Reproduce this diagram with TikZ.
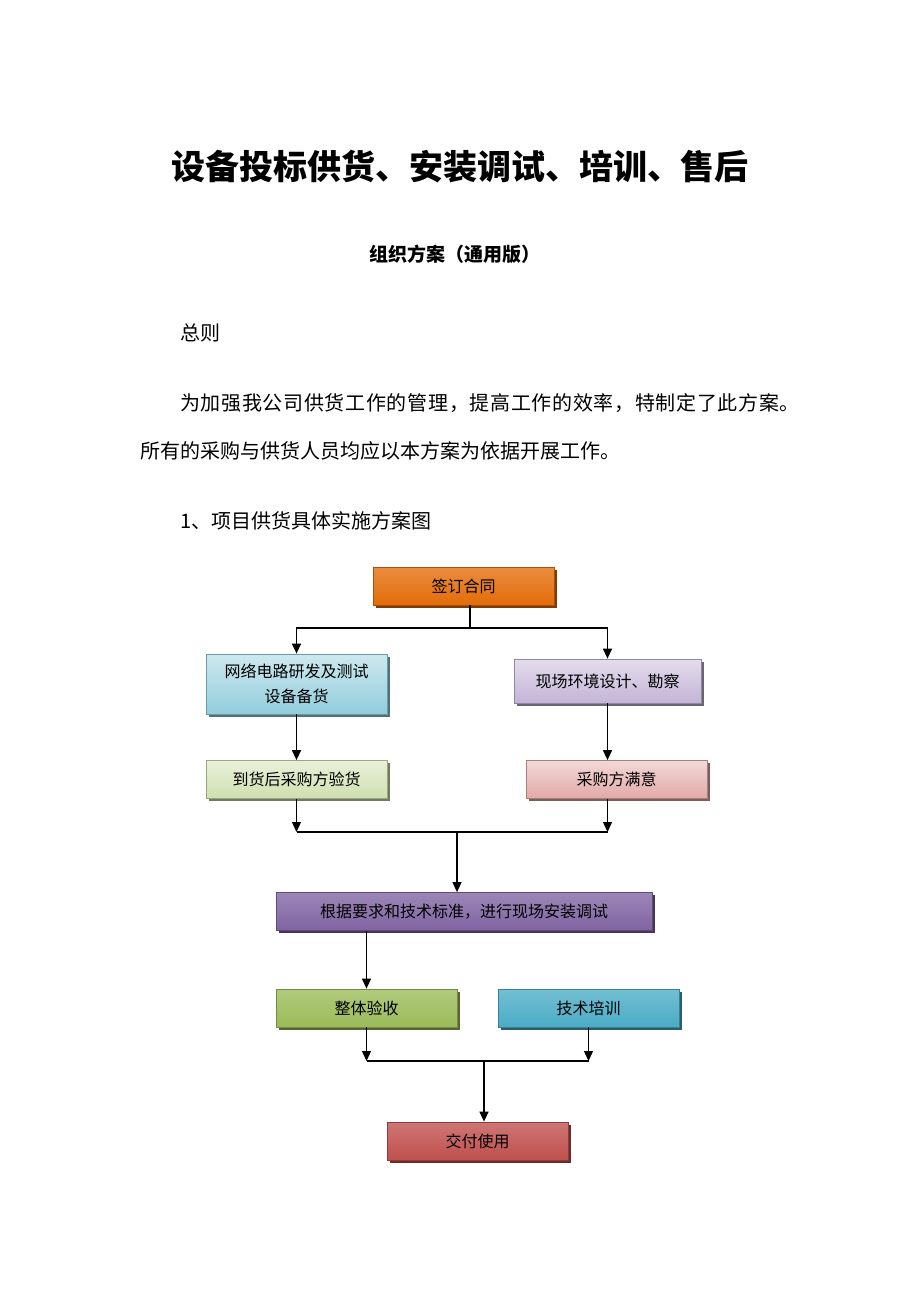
\documentclass[tikz,border=0pt]{standalone}
\usepackage{fontspec}
\newfontfamily\cjk{Noto Sans CJK SC}
\usepackage{tikz}
\usepackage{xcolor}
\usetikzlibrary{arrows.meta, positioning, shadows}
\definecolor{signC}{HTML}{E36C09}
\definecolor{devC}{HTML}{92CDDC}
\definecolor{siteC}{HTML}{C3B4D6}
\definecolor{checkC}{HTML}{CFDFAE}
\definecolor{okC}{HTML}{E2A9A8}
\definecolor{installC}{HTML}{8064A2}
\definecolor{acceptC}{HTML}{9BBB59}
\definecolor{trainC}{HTML}{4BACC6}
\definecolor{deliverC}{HTML}{C0504D}
\tikzset{
  box/.style={rectangle, draw=#1!75!black, line width=0.8pt,
              top color=#1!45!white, bottom color=#1,
              minimum height=38, inner sep=2pt, align=center,
              font=\cjk\fontsize{16}{25}\selectfont,
              drop shadow={shadow xshift=2.5pt, shadow yshift=-2.5pt,
                           fill=#1!55!black, opacity=1}},
  darkbox/.style={box=#1, top color=#1!78!white, bottom color=#1},
  arrow/.style={-{Triangle[length=10pt, width=9pt]}, line width=1.3pt},
  line/.style={line width=1.3pt},
  plain/.style={anchor=west, inner sep=0pt, font=\cjk\fontsize{20}{24}\selectfont},
}

\begin{document}
\begin{tikzpicture}[x=1pt, y=-1pt]
  \useasboundingbox (0,0) rectangle (920,1302);
  % heading and text
  \node[inner sep=0pt, font=\cjk\bfseries\fontsize{34}{40}\selectfont] (title) at (460,167)
    {设备投标供货、安装调试、培训、售后};
  \node[inner sep=0pt, font=\cjk\bfseries\fontsize{19}{24}\selectfont] (subtitle) at (455,254)
    {组织方案（通用版）};
  \node[plain] (rule) at (180,333) {总则};
  \node[plain] (para1) at (180,403)
    {\addfontfeature{LetterSpace=3.4}为加强我公司供货工作的管理，提高工作的效率，特制定了此方案。};
  \node[plain] (para2) at (140,451) {所有的采购与供货人员均应以本方案为依据开展工作。};
  \node[plain] (caption) at (180,521) {1、项目供货具体实施方案图};

  % flow boxes
  \node[darkbox=signC, minimum width=181] (sign) at (463.5,586) {签订合同};
  \node[box=devC, minimum width=181, minimum height=60] (dev) at (296.5,684)
    {网络电路研发及测试\\设备备货};
  \node[box=siteC, minimum width=187, minimum height=44] (site) at (607.5,681)
    {现场环境设计、勘察};
  \node[box=checkC, minimum width=181] (check) at (296.5,779.5) {到货后采购方验货};
  \node[box=okC, minimum width=181] (ok) at (616.5,779.5) {采购方满意};
  \node[darkbox=installC, minimum width=376] (install) at (464,911.5)
    {根据要求和技术标准，进行现场安装调试};
  \node[darkbox=acceptC, minimum width=181] (accept) at (366.5,1008) {整体验收};
  \node[darkbox=trainC, minimum width=181] (train) at (588.5,1008) {技术培训};
  \node[darkbox=deliverC, minimum width=181] (deliver) at (477.5,1141) {交付使用};

  % junctions
  \coordinate (j1) at (470,628);
  \coordinate (j2) at (457,832);
  \coordinate (j3) at (484,1061);

  % connectors
  \draw[line] (sign.south -| j1) -- (j1);
  \draw[arrow] (j1) -| (dev.north);
  \draw[arrow] (j1) -| (site.north);
  \draw[arrow] (dev.south) -- (check.north);
  \draw[arrow] (site.south) -- (site.south |- ok.north);
  \draw[arrow] (check.south) -- (check.south |- j2);
  \draw[arrow] (site.south |- ok.south) -- (site.south |- j2);
  \draw[line] (check.south |- j2) -- (site.south |- j2);
  \draw[arrow] (j2) -- (j2 |- install.north);
  \draw[arrow] (accept.north |- install.south) -- (accept.north);
  \draw[arrow] (accept.south) -- (accept.south |- j3);
  \draw[arrow] (train.south) -- (train.south |- j3);
  \draw[line] (accept.south |- j3) -- (train.south |- j3);
  \draw[arrow] (j3) -- (j3 |- deliver.north);
\end{tikzpicture}
\end{document}
